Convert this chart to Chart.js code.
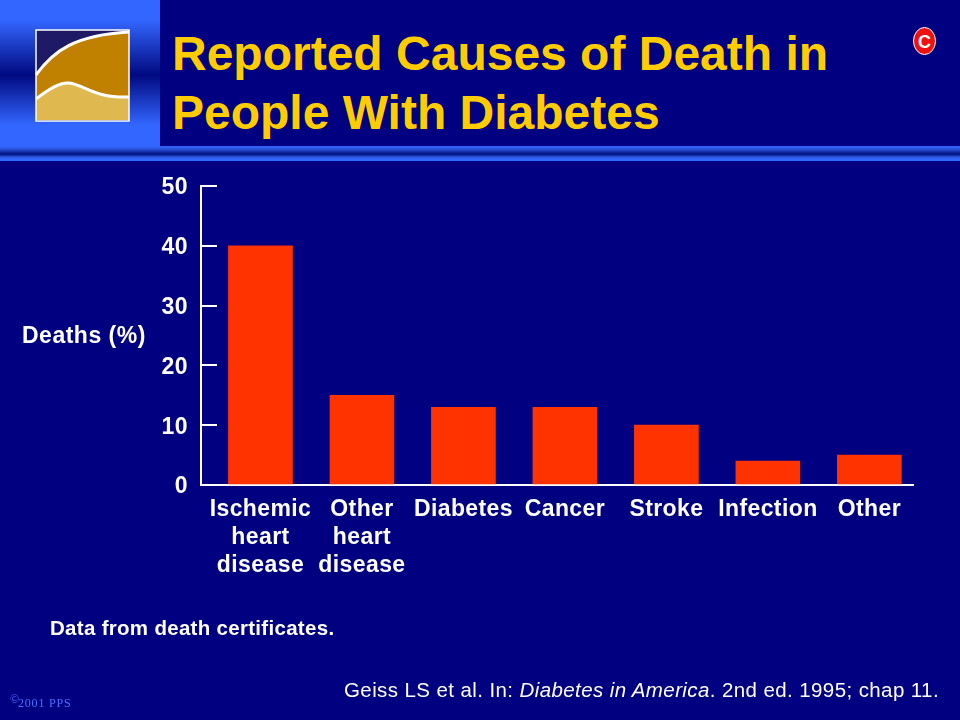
<!DOCTYPE html>
<html>
<head>
<meta charset="utf-8">
<title>Reported Causes of Death in People With Diabetes</title>
<script src="https://cdn.jsdelivr.net/npm/chart.js@4"></script>
<style>
html, body { margin: 0; padding: 0; background: #000080; }
#page { position: relative; width: 960px; height: 720px; overflow: hidden; background: #000080; font-family: "Liberation Sans", Arial, sans-serif; }
#page canvas { position: absolute; left: 0; top: 0; }
.txt { position: absolute; white-space: nowrap; }
#side { position: absolute; left: 0; top: 0; width: 160px; height: 146px; background: linear-gradient(#3366ff 0, #3366ff 20px, #000a80 75px, #3366ff 125px, #3366ff 146px); }
#rule { position: absolute; left: 0; top: 146px; width: 960px; height: 15px; background: linear-gradient(#3366ff 0, #2a55dd 3px, #001080 8px, #2a55dd 11px, #3366ff 13px, #3366ff 15px); }
#title { left: 172px; top: 24px; color: #ffcc00; font-size: 48px; font-weight: bold; line-height: 59px; }
#yname { left: 22px; top: 322px; color: #fff; font-size: 23px; font-weight: bold; letter-spacing: 0.5px; }
#note { left: 50px; top: 616px; color: #fff; font-size: 20.5px; font-weight: bold; letter-spacing: 0.3px; }
#cite { left: 344px; top: 678px; color: #fff; font-size: 20.5px; letter-spacing: 0.4px; }
#copy { left: 18px; top: 696px; color: #4d70ff; font-family: "Liberation Serif", serif; font-size: 12px; letter-spacing: 0.8px; }
#copy sup { position: absolute; left: -8px; top: -4px; font-size: 12px; }
</style>
</head>
<body>
<div id="page">
  <div id="side"></div>
  <div id="rule"></div>
  <svg style="position:absolute;left:35px;top:29px" width="95" height="93" viewBox="0 0 95 93">
    <rect x="1" y="1" width="93" height="91" fill="#1f1a66"/>
    <path d="M1 46 C18 22 40 6 94 3 L94 91 L1 91 Z" fill="#c08000"/>
    <path d="M1 46 C18 22 40 6 94 3" fill="none" stroke="#fff" stroke-width="3"/>
    <path d="M1 70 C16 58 26 53 34 54 C50 56 58 69 94 68 L94 91 L1 91 Z" fill="#e0b850"/>
    <path d="M1 70 C16 58 26 53 34 54 C50 56 58 69 94 68" fill="none" stroke="#fff" stroke-width="3"/>
    <rect x="1" y="1" width="93" height="91" fill="none" stroke="#fff" stroke-width="1.5"/>
  </svg>
  <div id="title" class="txt">Reported Causes of Death in<br>People With Diabetes</div>
  <svg style="position:absolute;left:911px;top:26px" width="28" height="30" viewBox="0 0 28 30">
    <ellipse cx="13.5" cy="15" rx="11" ry="13.5" fill="#ee1111" stroke="#fff" stroke-width="1"/>
    <text x="13.5" y="21.5" text-anchor="middle" font-family="Liberation Sans" font-weight="bold" font-size="18" fill="#fff">C</text>
  </svg>
  <canvas id="chart" width="960" height="720"></canvas>
  <div id="yname" class="txt">Deaths (%)</div>
  <div id="note" class="txt">Data from death certificates.</div>
  <div id="cite" class="txt">Geiss LS et al. In: <i>Diabetes in America</i>. 2nd ed. 1995; chap 11.</div>
  <div id="copy" class="txt"><sup>©</sup>2001 PPS</div>
</div>
<script>
// causes, one array of lines per x label
const categories = [
	['Ischemic', 'heart', 'disease'],
	['Other', 'heart', 'disease'],
	['Diabetes'],
	['Cancer'],
	['Stroke'],
	['Infection'],
	['Other']
];
const deaths = [40, 15, 13, 13, 10, 4, 5];
const yTicks = [0, 10, 20, 30, 40, 50];

const ctx = document.getElementById('chart').getContext('2d');

new Chart(ctx, {
	type: 'bar',
	data: {
		datasets: [{
			data: deaths.map((v, i) => ({ x: i, y: v })),
			backgroundColor: '#ff3300',
			borderWidth: 0,
			barThickness: 64
		}]
	},
	options: {
		responsive: false,
		animation: false,
		layout: { padding: { top: 186, right: 47, left: 0, bottom: 0 } },
		plugins: { legend: { display: false }, tooltip: { enabled: false } },
		scales: {
			x: {
				type: 'linear',
				offset: false,
				// category slots do not start at the axis in the original, so the range overhangs
				min: -0.586,
				max: 6.43,
				afterBuildTicks: function (scale) {
					scale.ticks = categories.map((c, i) => ({ value: i }));
				},
				afterFit: function (scale) { scale.height = 235; },
				border: { color: '#fff', width: 2 },
				grid: { display: false },
				ticks: {
					color: '#fff',
					font: { family: 'Liberation Sans', size: 23, weight: 'bold', lineHeight: 1.217 },
					padding: 3,
					maxRotation: 0,
					autoSkip: false,
					callback: function (value) { return categories[value]; }
				}
			},
			y: {
				min: 0,
				max: 50,
				afterBuildTicks: function (scale) {
					scale.ticks = yTicks.map(v => ({ value: v }));
				},
				afterFit: function (scale) { scale.width = 201; },
				border: { color: '#fff', width: 2 },
				grid: { drawOnChartArea: false, color: '#fff', lineWidth: 2, tickLength: -16 },
				ticks: {
					color: '#fff',
					font: { family: 'Liberation Sans', size: 23, weight: 'bold' },
					padding: 29
				}
			}
		}
	},
	plugins: [{
		id: 'spacing',
		beforeDraw: function (chart) {
			chart.ctx.letterSpacing = '0.4px';
			// y labels sit 2px under their ticks in the original
			if (!chart.yNudged) {
				chart.scales.y.getLabelItems().forEach(item => { item.options.translation[1] += 2; });
				chart.yNudged = true;
			}
		}
	}]
});
</script>
</body>
</html>
